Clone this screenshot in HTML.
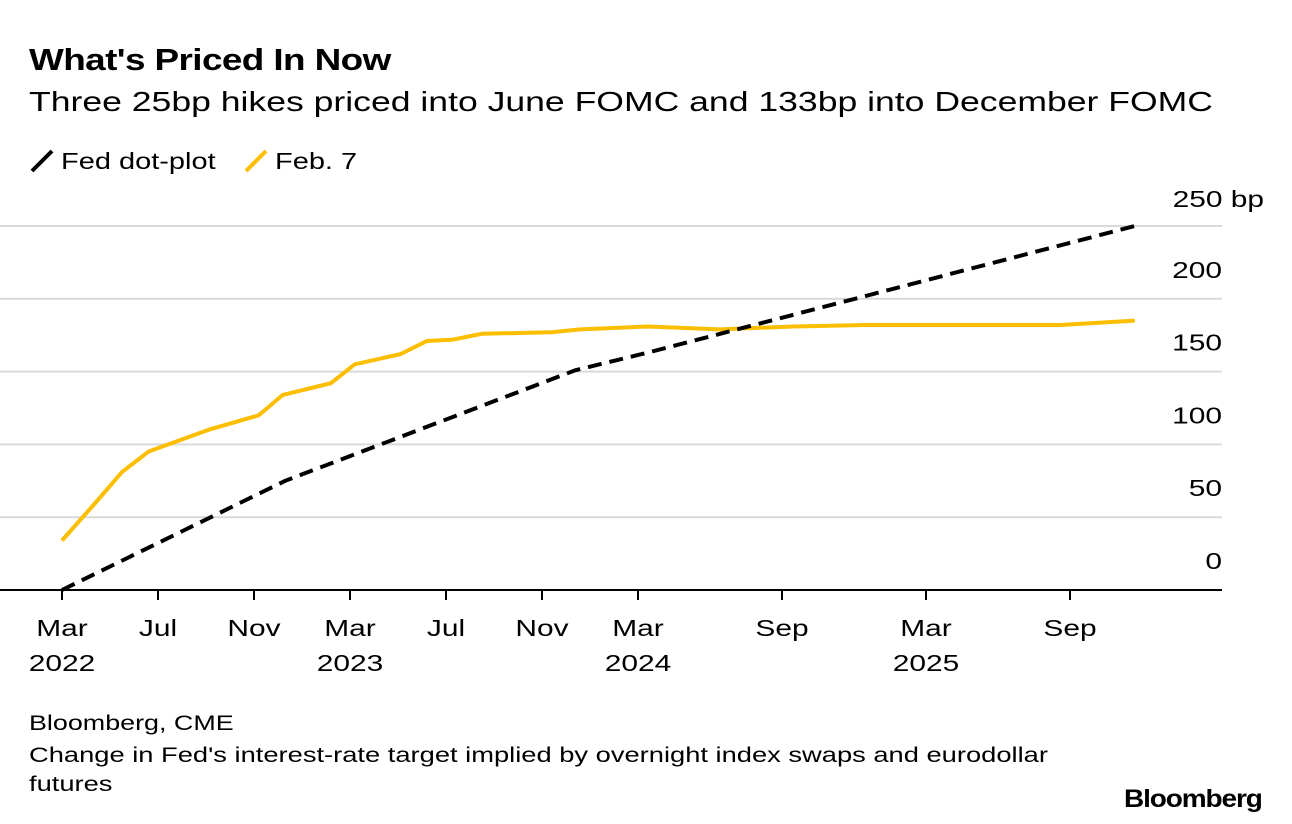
<!DOCTYPE html>
<html><head><meta charset="utf-8"><style>
body{margin:0;background:#fff;font-family:"Liberation Sans",sans-serif;color:#000}
#wrap{position:relative;width:1292px;height:824px;overflow:hidden}
.t{position:absolute;white-space:nowrap;transform-origin:0 0}
</style></head><body><div id="wrap">
<div class="t" style="left:29px;top:42px;font-size:31px;font-weight:bold;letter-spacing:-0.5px;transform:scaleX(1.19)">What's Priced In Now</div>
<div class="t" style="left:29px;top:86px;font-size:28px;transform:scaleX(1.27)">Three 25bp hikes priced into June FOMC and 133bp into December FOMC</div>
<div class="t" style="left:29px;top:148px;font-size:23px"><svg width="26" height="26" style="vertical-align:-5px"><line x1="3" y1="23" x2="23" y2="3" stroke="#000" stroke-width="4"/></svg> <span style="display:inline-block;transform:scaleX(1.26);transform-origin:0 0">Fed dot-plot</span></div>
<div class="t" style="left:243px;top:148px;font-size:23px"><svg width="26" height="26" style="vertical-align:-5px"><line x1="3" y1="23" x2="23" y2="3" stroke="#fcbe00" stroke-width="4"/></svg> <span style="display:inline-block;transform:scaleX(1.26);transform-origin:0 0">Feb. 7</span></div>
<svg id="plot" width="1292" height="824" style="position:absolute;left:0;top:0"></svg>
<div class="t" style="left:29px;top:712px;font-size:21px;transform:scaleX(1.28)">Bloomberg, CME</div>
<div class="t" style="left:29px;top:741px;font-size:21px;line-height:29px;transform:scaleX(1.3)">Change in Fed's interest-rate target implied by overnight index swaps and eurodollar<br>futures</div>
<div class="t" style="left:1124px;top:785px;font-size:25px;font-weight:bold;letter-spacing:-1px;transform:scaleX(1.12)">Bloomberg</div>
</div>
<script>
const yTicks=[0,50,100,150,200,250];
const xTickMonths=[0,4,8,12,16,20,24,30,36,42];
const xTickLabels=[["Mar","2022"],["Jul",""],["Nov",""],["Mar","2023"],["Jul",""],["Nov",""],["Mar","2024"],["Sep",""],["Mar","2025"],["Sep",""]];
const dotMonths=[0,9.3,21.4,24.4,44.7];
const dotValues=[0,75,151,163,250];
const febMonths=[0,1.4,2.5,3.6,6.1,8.2,9.2,11.2,12.2,14.1,15.2,16.3,17.5,20.4,21.6,24.4,27.4,30.5,33.5,41.6,44.7];
const febValues=[34,60,81,95,110,120,134,142,155,162,171,172,176,177,179,181,179,181,182,182,185];
const svg=document.getElementById('plot');const NS='http://www.w3.org/2000/svg';
const x=m=>62+m*24;const y=v=>590-v*1.456;
function mk(t,a){const e=document.createElementNS(NS,t);for(const k in a)e.setAttribute(k,a[k]);svg.appendChild(e);return e;}
function txt(s,px,py,anchor){
 const t=mk('text',{'text-anchor':anchor,'font-size':23,'font-family':'Liberation Sans',transform:'translate('+px+','+py+') scale(1.3,1)'});
 t.textContent=s;return t;}
yTicks.forEach((v,i)=>{
 if(v>0){const g=mk('line',{x1:0,x2:1222,y1:y(v),y2:y(v),stroke:'#d9d9d9','stroke-width':2});
 
 }
 const t=v===250?txt('250 bp',1264,y(v)-19,'end'):txt(String(v),1222,y(v)-21,'end');
 
 
});
const ax=mk('line',{x1:0,x2:1222,y1:590,y2:590,stroke:'#000','stroke-width':2});


xTickMonths.forEach((m,i)=>{
 const tk=mk('line',{x1:x(m),x2:x(m),y1:590,y2:600,stroke:'#000','stroke-width':2});
 
 
 xTickLabels[i].forEach((s,j)=>{if(!s)return;const t=txt(s,x(m),636+j*35,'middle');
 
 });
});
const fp=febMonths.map((m,i)=>x(m)+','+y(febValues[i])).join(' ');
const f=mk('polyline',{points:fp,fill:'none',stroke:'#fcbe00','stroke-width':4,'stroke-linejoin':'round'});


const dp=dotMonths.map((m,i)=>x(m)+','+y(dotValues[i])).join(' ');
const d=mk('polyline',{points:dp,fill:'none',stroke:'#000','stroke-width':4,'stroke-dasharray':'14 8'});


</script></body></html>
